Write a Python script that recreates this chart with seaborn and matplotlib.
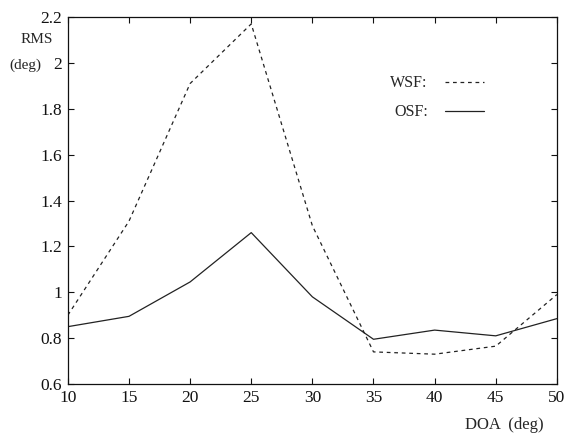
import matplotlib
matplotlib.use("Agg")
import matplotlib.pyplot as plt
import seaborn as sns
import pandas as pd

doa = [10, 15, 20, 25, 30, 35, 40, 45, 50]
wsf = [0.90, 1.31, 1.91, 2.17, 1.29, 0.74, 0.73, 0.765, 0.99]
osf = [0.85, 0.895, 1.045, 1.26, 0.98, 0.795, 0.835, 0.81, 0.885]
xticks = [10, 15, 20, 25, 30, 35, 40, 45, 50]
yticks = [0.6, 0.8, 1.0, 1.2, 1.4, 1.6, 1.8, 2.0, 2.2]
yticklabels = ["0.6", "0.8", "1", "1.2", "1.4", "1.6", "1.8", "2", "2.2"]

sns.set_theme(style="white")
plt.rcParams['font.family'] = ['Liberation Serif', 'DejaVu Serif']

df = pd.DataFrame({"DOA": doa * 2, "RMS": wsf + osf,
                   "method": ["WSF:"] * len(doa) + ["OSF:"] * len(doa)})

fig = plt.figure(figsize=(5.75, 4.34), dpi=100)
ax = fig.add_axes([0.118, 0.1152, 0.8505, 0.8456])
sns.lineplot(data=df, x="DOA", y="RMS", hue="method", style="method",
             palette={"WSF:": "#222222", "OSF:": "#222222"},
             dashes={"WSF:": (3, 3), "OSF:": ""}, linewidth=0.9, ax=ax)

ax.set_xlim(10, 50)
ax.set_ylim(0.6, 2.2)
ax.set_xticks(xticks)
ax.set_xticklabels([str(t) for t in xticks], fontsize=12.5)
ax.set_yticks(yticks)
ax.set_yticklabels(yticklabels, fontsize=12.5)
ax.tick_params(direction="in", length=4, width=0.8, top=True, right=True,
               bottom=True, left=True, colors="#111111")
ax.tick_params(axis="x", pad=4)
ax.tick_params(axis="y", pad=4)
for s in ax.spines.values():
    s.set_color("#111111")
    s.set_linewidth(0.9)
ax.set_xlabel("")
ax.set_ylabel("")
fig.text(0.0365, 0.908, "RMS", fontsize=11, ha="left", va="center")
fig.text(0.017, 0.850, "(deg)", fontsize=11, ha="left", va="center")
fig.text(0.809, 0.021, "DOA  (deg)", fontsize=12, ha="left", va="center")

leg = ax.legend(loc="upper left", bbox_to_anchor=(0.630, 0.880), frameon=False,
                markerfirst=False, fontsize=11.5, handlelength=2.4,
                handletextpad=1.1, labelspacing=0.8)
for h in leg.get_lines():
    h.set_linewidth(0.9)

fig.savefig("out.png", dpi=100)
